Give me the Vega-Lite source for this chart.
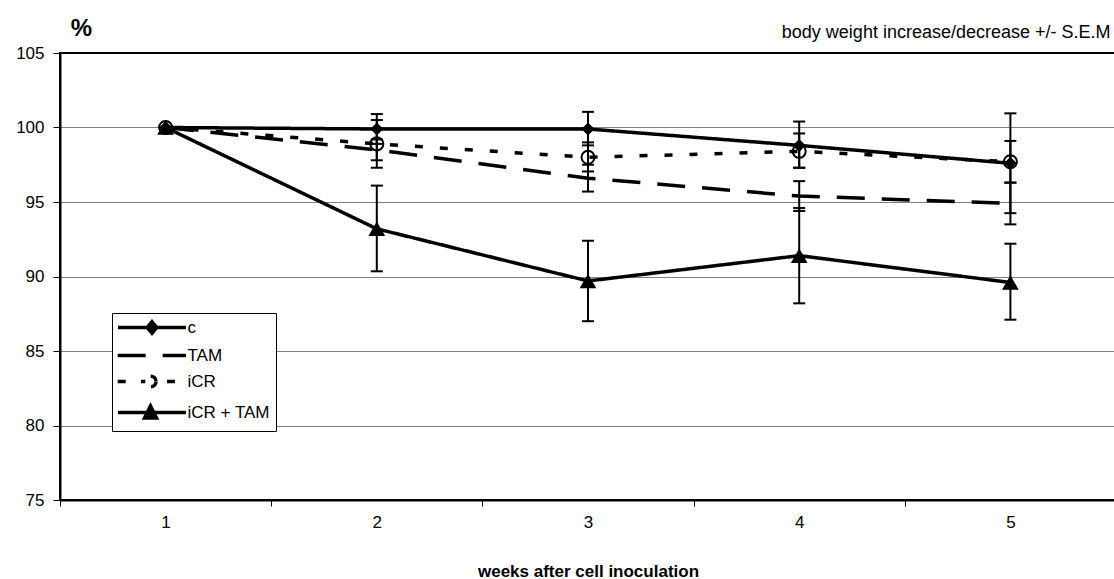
{
  "$schema": "https://vega.github.io/schema/vega-lite/v6.json",
  "width": 1056,
  "height": 447,
  "autosize": "none",
  "padding": {"left": 60, "top": 53, "right": 0, "bottom": 79},
  "background": "white",
  "data": {
    "values": [
      {"week": 1, "series": "c", "value": 100, "lo": null, "hi": null},
      {"week": 2, "series": "c", "value": 99.9, "lo": 98.9, "hi": 100.9},
      {"week": 3, "series": "c", "value": 99.9, "lo": 98.8, "hi": 101.05},
      {"week": 4, "series": "c", "value": 98.8, "lo": 97.3, "hi": 100.4},
      {"week": 5, "series": "c", "value": 97.6, "lo": 94.25, "hi": 100.95},
      {"week": 1, "series": "TAM", "value": 100, "lo": null, "hi": null},
      {"week": 2, "series": "TAM", "value": 98.5, "lo": 97.8, "hi": 99.2},
      {"week": 3, "series": "TAM", "value": 96.6, "lo": 95.7, "hi": 97.5},
      {"week": 4, "series": "TAM", "value": 95.4, "lo": 94.4, "hi": 96.4},
      {"week": 5, "series": "TAM", "value": 94.9, "lo": 93.5, "hi": 96.3},
      {"week": 1, "series": "iCR", "value": 100, "lo": null, "hi": null},
      {"week": 2, "series": "iCR", "value": 98.9, "lo": 97.3, "hi": 100.5},
      {"week": 3, "series": "iCR", "value": 98.0, "lo": 97.05, "hi": 99.0},
      {"week": 4, "series": "iCR", "value": 98.4, "lo": 97.3, "hi": 99.6},
      {"week": 5, "series": "iCR", "value": 97.7, "lo": 96.3, "hi": 99.1},
      {"week": 1, "series": "iCR + TAM", "value": 100, "lo": null, "hi": null},
      {"week": 2, "series": "iCR + TAM", "value": 93.2, "lo": 90.35, "hi": 96.1},
      {"week": 3, "series": "iCR + TAM", "value": 89.7, "lo": 87.0, "hi": 92.4},
      {"week": 4, "series": "iCR + TAM", "value": 91.4, "lo": 88.2, "hi": 94.6},
      {"week": 5, "series": "iCR + TAM", "value": 89.6, "lo": 87.1, "hi": 92.2}
    ]
  },
  "resolve": {"axis": {"x": "independent"}},
  "encoding": {
    "x": {
      "field": "week",
      "type": "ordinal",
      "scale": {"type": "band", "paddingInner": 0, "paddingOuter": 0},
      "axis": null
    }
  },
  "layer": [
    {
      "mark": {"type": "point", "strokeWidth": 3.5, "size": 100, "opacity": 0},
      "encoding": {
        "y": {"field": "value", "type": "quantitative", "title": "%", "axis": {"title": "%", "values": [75, 80, 85, 90, 95, 100, 105], "gridOpacity": {"condition": {"test": "datum.value === 105 || datum.value === 75", "value": 0}, "value": 1}}},
        "shape": {
          "field": "series",
          "type": "nominal",
          "scale": {
            "domain": ["c", "TAM", "iCR", "iCR + TAM"],
            "range": [
              "M-6.8,0H6.8M0,-1.15L0.95,0L0,1.15L-0.95,0Z",
              "M-6.86,0H-1.2M2.13,0H6.8",
              "M-6.86,0H-5.2M-2.2,0H-1.34M3,0H4.6M0.81,0C0.81,0.59,0.33,1.07,-0.26,1.07C-0.85,1.07,-1.33,0.59,-1.33,0C-1.33,-0.59,-0.85,-1.07,-0.26,-1.07C0.33,-1.07,0.81,-0.59,0.81,0Z",
              "M-6.8,0H6.8M-0.3,-1.3L0.9,1.1L-1.5,1.1Z"
            ]
          },
          "legend": {
            "orient": "none", "legendX": 52, "legendY": 260, "title": null,
            "fillColor": "white", "strokeColor": "black", "padding": 6, "cornerRadius": 0,
            "labelFontSize": 17, "labelColor": "black", "rowPadding": 5,
            "symbolSize": 100, "symbolStrokeWidth": 3.5, "symbolOpacity": 1,
            "symbolOffset": 25.5, "labelOffset": 27
          }
        },
        "fill": {
          "field": "series",
          "type": "nominal",
          "scale": {
            "domain": ["c", "TAM", "iCR", "iCR + TAM"],
            "range": ["black", "black", "white", "black"]
          },
          "legend": {
            "orient": "none", "legendX": 52, "legendY": 260, "title": null,
            "fillColor": "white", "strokeColor": "black", "padding": 6, "cornerRadius": 0,
            "labelFontSize": 17, "labelColor": "black", "rowPadding": 5,
            "symbolSize": 100, "symbolStrokeWidth": 3.5, "symbolOpacity": 1,
            "symbolOffset": 25.5, "labelOffset": 27
          }
        },
        "stroke": {
          "field": "series",
          "type": "nominal",
          "scale": {
            "domain": ["c", "TAM", "iCR", "iCR + TAM"],
            "range": ["black", "black", "black", "black"]
          },
          "legend": {
            "orient": "none", "legendX": 52, "legendY": 260, "title": null,
            "fillColor": "white", "strokeColor": "black", "padding": 6, "cornerRadius": 0,
            "labelFontSize": 17, "labelColor": "black", "rowPadding": 5,
            "symbolSize": 100, "symbolStrokeWidth": 3.5, "symbolOpacity": 1,
            "symbolOffset": 25.5, "labelOffset": 27
          }
        }
      }
    },
    {
      "mark": {"type": "line", "color": "black", "strokeWidth": 3.5},
      "encoding": {
        "x": {
          "field": "week",
          "type": "ordinal",
          "scale": {"type": "band", "paddingInner": 0, "paddingOuter": 0},
          "axis": {
            "title": "weeks after cell inoculation",
            "labelAngle": 0,
            "tickBand": "extent",
            "tickSize": 6,
            "tickColor": "black",
            "tickWidth": 1,
            "domainColor": "black",
            "domainWidth": 2,
            "labelFontSize": 17,
            "labelPadding": 8,
            "labelColor": "black",
            "titleFontSize": 17,
            "titleFontWeight": "bold",
            "titleY": 76,
            "titleBaseline": "alphabetic",
            "titleColor": "black",
            "grid": false
          }
        },
        "y": {
          "field": "value",
          "type": "quantitative",
          "title": "%",
          "scale": {"domain": [75, 105], "nice": false, "zero": false},
          "axis": {"title": "%", "values": [75, 80, 85, 90, 95, 100, 105], "gridOpacity": {"condition": {"test": "datum.value === 105 || datum.value === 75", "value": 0}, "value": 1}}
        },
        "strokeDash": {
          "field": "series",
          "type": "nominal",
          "scale": {
            "domain": ["c", "TAM", "iCR", "iCR + TAM"],
            "range": [[1, 0], [28, 17], [8, 17], [1, 0]]
          },
          "legend": null
        }
      }
    },
    {
      "mark": {"type": "rule", "color": "black", "strokeWidth": 2},
      "encoding": {
        "x": {
          "field": "week",
          "type": "ordinal",
          "scale": {"type": "band", "paddingInner": 0, "paddingOuter": 0},
          "axis": {
            "orient": "top",
            "title": "body weight increase/decrease +/- S.E.M",
            "labels": false,
            "ticks": false,
            "domain": false,
            "grid": false,
            "titleX": 1050,
            "titleY": -16,
            "titleAlign": "right",
            "titleBaseline": "alphabetic",
            "titleFontSize": 18,
            "titleFontWeight": "normal",
            "titleColor": "black"
          }
        },
        "y": {"field": "lo", "type": "quantitative", "title": "%", "axis": {"title": "%", "values": [75, 80, 85, 90, 95, 100, 105], "gridOpacity": {"condition": {"test": "datum.value === 105 || datum.value === 75", "value": 0}, "value": 1}}},
        "y2": {"field": "hi"}
      }
    },
    {
      "mark": {"type": "tick", "color": "black", "size": 12, "thickness": 2, "orient": "horizontal", "opacity": 1},
      "encoding": {
        "y": {"field": "lo", "type": "quantitative", "title": "%", "axis": {"title": "%", "values": [75, 80, 85, 90, 95, 100, 105], "gridOpacity": {"condition": {"test": "datum.value === 105 || datum.value === 75", "value": 0}, "value": 1}}}
      }
    },
    {
      "mark": {"type": "tick", "color": "black", "size": 12, "thickness": 2, "orient": "horizontal", "opacity": 1},
      "encoding": {
        "y": {"field": "hi", "type": "quantitative", "title": "%", "axis": {"title": "%", "values": [75, 80, 85, 90, 95, 100, 105], "gridOpacity": {"condition": {"test": "datum.value === 105 || datum.value === 75", "value": 0}, "value": 1}}}
      }
    },
    {
      "transform": [{"filter": "datum.series === 'iCR'"}],
      "mark": {"type": "point", "shape": "circle", "filled": false, "stroke": "black", "strokeWidth": 2, "size": 170, "opacity": 1},
      "encoding": {
        "y": {"field": "value", "type": "quantitative", "title": "%", "axis": {"title": "%", "values": [75, 80, 85, 90, 95, 100, 105], "gridOpacity": {"condition": {"test": "datum.value === 105 || datum.value === 75", "value": 0}, "value": 1}}}
      }
    },
    {
      "transform": [{"filter": "datum.series === 'c'"}],
      "mark": {"type": "point", "shape": "diamond", "filled": true, "color": "black", "size": 169, "opacity": 1},
      "encoding": {
        "y": {"field": "value", "type": "quantitative", "title": "%", "axis": {"title": "%", "values": [75, 80, 85, 90, 95, 100, 105], "gridOpacity": {"condition": {"test": "datum.value === 105 || datum.value === 75", "value": 0}, "value": 1}}}
      }
    },
    {
      "transform": [{"filter": "datum.series === 'iCR + TAM'"}],
      "mark": {"type": "point", "shape": "triangle-up", "filled": true, "color": "black", "size": 280, "opacity": 1},
      "encoding": {
        "y": {"field": "value", "type": "quantitative", "title": "%", "axis": {"title": "%", "values": [75, 80, 85, 90, 95, 100, 105], "gridOpacity": {"condition": {"test": "datum.value === 105 || datum.value === 75", "value": 0}, "value": 1}}}
      }
    }
  ],
  "config": {
    "font": "Liberation Sans",
    "view": {"stroke": "black", "strokeWidth": 2},
    "axisY": {
      "titleAngle": 0, "titleX": 21, "titleY": -18, "titleAlign": "center", "titleBaseline": "alphabetic",
      "titleFontSize": 24, "titleFontWeight": "bold", "titleColor": "black",
      "labelFontSize": 17, "labelColor": "black", "labelPadding": 9,
      "tickColor": "black", "tickSize": 7, "domainColor": "black", "domainWidth": 2,
      "grid": true, "gridColor": "#808080", "gridWidth": 1
    }
  }
}
